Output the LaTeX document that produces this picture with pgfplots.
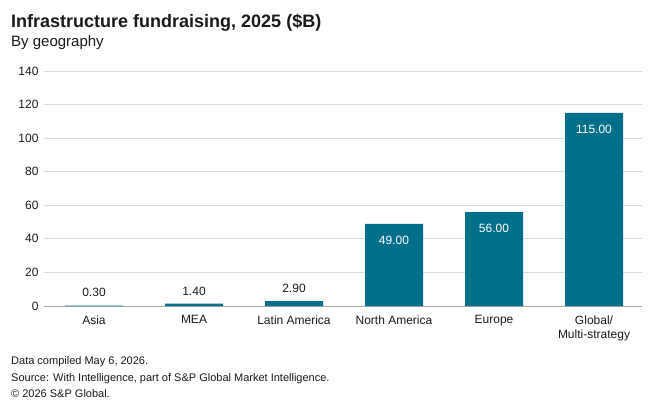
\documentclass[border=0pt]{standalone}
\usepackage{pgfplots}
\pgfplotsset{compat=1.18}
\usepackage{fontspec}
\setmainfont{Liberation Sans}
\definecolor{barcol}{HTML}{006F89}
\definecolor{txt}{HTML}{1A1A1A}
\definecolor{gridc}{HTML}{D9D9D9}
\definecolor{axc}{HTML}{A6A6A6}
\begin{document}
\begin{tikzpicture}[x=1pt,y=1pt]
\path[use as bounding box, fill=white] (0,0) rectangle (660,408);
\node[anchor=base west, font=\fontsize{18}{21}\selectfont\bfseries, text=txt, inner sep=0] at (11,380) {Infrastructure fundraising, 2025 (\$B)};
\node[anchor=base west, font=\fontsize{15}{18}\selectfont, text=txt, inner sep=0] at (11,362) {By geography};
\begin{axis}[
  at={(44pt,102pt)}, anchor=south west,
  scale only axis, width=598pt, height=235pt,
  xmin=-0.5, xmax=5.48, ymin=0, ymax=140,
  ytick={0,20,...,140},
  xtick={0,1,2,3,4,5},
  xticklabels={Asia,MEA,Latin America,North America,Europe,{Global/\\Multi-strategy}},
  xticklabel style={align=center, font=\fontsize{12}{14}\selectfont, text=txt, yshift=-6pt},
  yticklabel style={font=\fontsize{12}{14}\selectfont, text=txt, xshift=-2pt},
  /pgf/number format/assume math mode=true,
  ymajorgrids, grid style={gridc, line width=0.8pt},
  axis x line*=bottom, axis y line*=left,
  y axis line style={draw=none},
  x axis line style={axc, line width=0.8pt, -},
  major tick length=0pt,
  tick style={draw=none},
  clip=false,
]
\addplot[ybar, bar width=58pt, fill=barcol, draw=none] coordinates {(0,0.3)(1,1.4)(2,2.9)(3,49)(4,56)(5,115)};
\addplot[draw=none, mark=none, nodes near coords={\pgfmathprintnumber[fixed,fixed zerofill,precision=2]{\pgfplotspointmeta}},
  every node near coord/.style={anchor=south, yshift=5pt, font=\fontsize{12}{14}\selectfont, text=txt}]
  coordinates {(0,0.3)(1,1.4)(2,2.9)};
\addplot[draw=none, mark=none, nodes near coords={\pgfmathprintnumber[fixed,fixed zerofill,precision=2]{\pgfplotspointmeta}},
  every node near coord/.style={anchor=north, yshift=-9pt, font=\fontsize{12}{14}\selectfont, text=white}]
  coordinates {(3,49)(4,56)(5,115)};
\end{axis}
\node[anchor=base west, font=\fontsize{11}{13}\selectfont, text=txt, inner sep=0] at (11,44) {Data compiled May 6, 2026.};
\node[anchor=base west, font=\fontsize{11}{13}\selectfont, text=txt, inner sep=0] at (11,27) {Source: With Intelligence, part of S\&P Global Market Intelligence.};
\node[anchor=base west, font=\fontsize{11}{13}\selectfont, text=txt, inner sep=0] at (11,11) {\textcopyright{} 2026 S\&P Global.};
\end{tikzpicture}
\end{document}
